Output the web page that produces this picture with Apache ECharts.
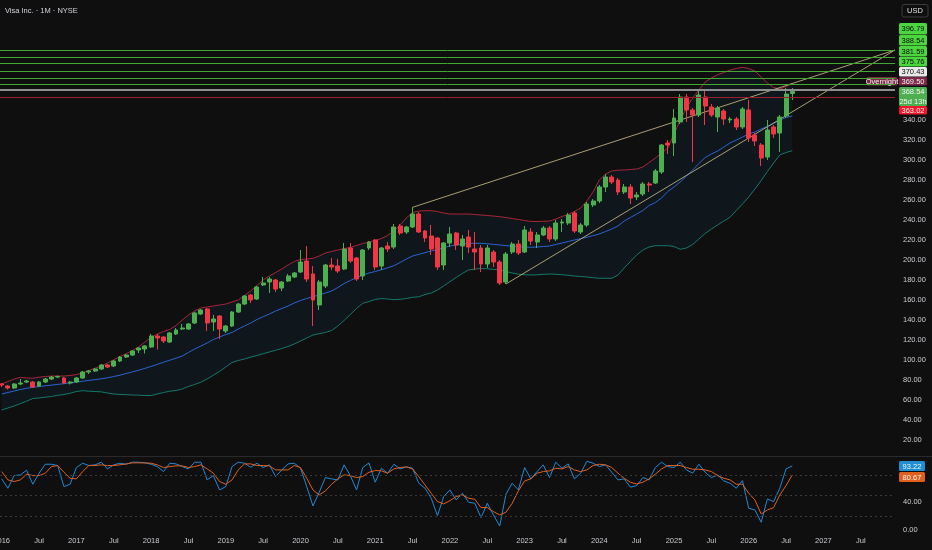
<!DOCTYPE html>
<html><head><meta charset="utf-8">
<script src="https://cdn.jsdelivr.net/npm/echarts@6/dist/echarts.min.js"></script>
<style>html,body{margin:0;padding:0;background:#0f0f0f;}#c{width:932px;height:550px;}</style>
</head><body><div id="c"></div>
<script>
// ---- data (monthly, index 0 = Jan 2016) ----
const titleText = "Visa Inc. · 1M · NYSE";
const months = [];
for (let i = 0; i < 128; i++) months.push((2016 + Math.floor(i / 12)) + "-" + String(i % 12 + 1).padStart(2, "0"));

const open  = [76,74,72,76,78,78,74,78,81,83, 82,77,78,82,88,89,91,95,94,99, 103,105,110,111,113,124,123,118,126,131, 131,137,146,151,138,144,129,134,148,156, 165,161,175,178,180,172,179,183,188,199, 186,155,174,195,194,191,212,202,184,212, 220,194,214,213,234,228,233,246,229,224, 222,195,217,227,214,223,211,212,196,208, 198,178,208,216,208,228,218,225,232,221, 237,237,247,228,235,255,259,273,283,280, 268,273,263,266,276,277,288,317,317,338, 363,350,345,363,353,343,349,340,341,333, 350,325,315,303,333,327,344,366.5];
const close = [75,72,76,77,79,73,78,81,83,83.5, 77,78,82,88,89,91,95,93,99,103, 105,109,112,114,124,122,119,127,130,132, 136,147,150,137,141,131,134,148,156,164, 160,173,177,181,171,178,184,187,198,181, 160,178,195,193,189,211,199,181,210,218, 193,212,211,233,227,233,246,228,222,211, 193,217,226,215,221,213,208,196,212,198, 177,206,216,207,230,219,225,232,221,237, 238,245,229,235,256,259,273,283,278,268, 273,262,265,276,275,289,315,315,342,363, 350,345,365,354,345,352,341,341,333,351, 322,319,302,330,326,343,366,368.5];
const low   = [73,70.5,71,75,77,72,73,77,80,82, 76,75.5,77,81,86,88,90,92,93,98, 102,104,107,106.5,112,110.5,117,117,125,130, 130,136,145,129,129,121,127,133,147,155, 157,160,174,167,168,169,178,182,187,178, 134,150,172,190,187,190,197,179,180,210, 190,190,208,211,225,226,232,227,218,205, 190,190,213,210,200,207,190,188,192,193, 175,176,206,205,207,215,212,224,218,219, 228,235,227,226,233,253,257,268,276,265, 266,256,260,264,268,276,286,306,304,336, 338,298,343,335,343,328,335,337,330,331, 318,314,294,300,322,308,342,360];
const high  = [77,75,77,81,80,79,79,82,84,84.5, 83,79,83,89,90,92,96,96,100,104, 106,110,113,115,126,126,124,128,132,136, 137,148,151,152,145,145,135,149,157,165, 166,174,183,183,181,179,186,188,210,214, 194,180,196,202,201,217,217,203,211,219, 221,213,218,236,236,234,253,248,230,235, 223,218,233,228,225,230,228,215,215,210, 200,208,218,220,234,232,228,234,234,240, 241,247,249,237,258,261,275,286,285,282, 276,276,268,278,278,291,316,320,351,366, 366,352,370,370,356,354,351,343,343,353, 360,327,317,340,335,345,372,372];

const bbUpper = [76,78.5,81,82.7,82,81.8,82.8,83.5,84,84, 84,84.5,85.5,87,89.5,91.8,94,97,100.3,103.5, 106.3,109.5,113,118,122.5,126,128.5,130.6,134.5,140, 145,149,152,153,154,155,156,158,160,164.5, 169,174.5,180,184,187.5,191,195,198.5,200.5,201, 201.7,204,207,208.5,210,211.5,212.5,214.5,216.5,218, 219.5,221.5,224.5,229,235,242,247.5,249,249.3,249.3, 248.5,247,246,246,246,246,245.5,245,244.5,244, 243.3,242.5,241.5,240.5,239.5,238.6,238.5,238.7,239,241, 243.5,245.5,248.5,252,259,268,280,286,289,289.8, 290,290.5,291,293,297.5,302,307,312,326,340, 352,362,370,378,382,385.3,387.5,390,391.5,392.7, 391.5,389,383,377,372.5,371,373.5,376.7];
const bbMid = [66,67.5,69,70.5,71.7,72.7,73.4,74.2,74.9,75.6, 76.3,77.1,78,78.8,79.6,80.4,81.2,82.2,83.5,84.8, 86.5,88.1,89.8,91.6,93.6,95.6,97.8,99.8,101.8,104, 107.5,111,114,117,120.5,123,125.5,127.5,131,134, 137,140.5,143.3,146,149,151.5,154,157,159.5,161.5, 163.3,165,167,169,172.5,176.5,179.5,182.3,185,187, 188.5,190.3,192.2,194.3,197.5,201,204,205.7,207.3,209, 210.5,212.3,214,215,216,216.7,216.7,216.7,216.3,215.6, 215,214.4,213.8,213.2,213,212.7,213,213.5,214,215.5, 217,218.5,220,221.3,222.8,224.3,226,228.5,231,234, 239,242.5,246,249.5,254.5,257.5,262,268.5,273,278, 284,290,296.5,302.5,306,309,313,317,320,323, 326,328,331,333.5,336.5,340,342.5,344];
const bbLower = [50,52,54,56.3,58.8,61.5,62,62.8,63.5,64.7, 65.5,66.8,68.5,69.3,68.8,68.5,68.1,67,66,65.5, 65.3,65,64.8,64.5,64.5,66,67.5,68.8,69.5,71, 73.5,75.5,77.8,81,84.8,88.5,93,97.5,99.5,101, 102.8,104.5,106.3,108,109.7,111.5,113.5,116,119,122, 125,126.3,127.5,129.5,134,139.5,145.5,151.5,156.7,158.5, 160.5,161.5,161,160.3,160.7,161.5,162.7,163.2,165.5,167, 170,174,178.3,182.5,186.5,190,191,191.5,191.2,190.6, 190,188.5,187,185.8,185.3,185,185.2,185.6,186,185.7, 185.3,184.7,184,183.5,183,182.3,181.7,181.7,181.7,185, 192,198.5,205,210,213,214.3,214.3,214.3,213.5,210.7, 212,215.5,221,226.5,231,235,239,242.7,249.5,256, 263,271,279.5,288.5,297,305,307.5,309.3];

const rsiLine = [74.3,60.6,79.1,80.1,87.0,66.5,82.6,95.7,95.7,93.8, 63.0,66.5,90.9,97.2,93.8,94.8,98.7,88.9,94.8,97.2, 95.7,98.7,98.7,97.7,95.7,92.3,85.0,97.2,96.2,92.3, 88.9,98.7,98.7,72.8,79.1,58.2,63.0,92.3,98.7,97.2, 91.3,97.2,90.9,94.8,77.7,87.4,96.2,97.2,89.9,63.0, 34.7,54.7,76.2,74.3,72.8,94.8,79.1,58.2,90.9,97.7, 69.4,89.9,82.6,95.7,88.9,91.8,89.9,67.9,60.6,46.0, 20.6,48.4,58.2,43.5,53.3,40.1,38.6,17.7,38.6,21.6, 5.4,51.8,67.9,58.2,90.9,74.3,85.0,94.8,76.2,98.7, 89.9,96.2,74.3,82.6,100,97.2,92.3,94.8,84.0,72.8, 74.3,62.1,64.5,76.2,72.8,90.9,98.7,92.3,90.9,98.7, 87.4,82.6,95.7,84.0,76.2,80.1,71.3,67.9,60.6,71.8, 31.3,28.9,10.8,45.0,41.1,60.6,88.9,93.3];
const rsiSignal = [85.0,72.8,70.4,72.8,81.1,79.1,79.1,82.6,92.3,93.8, 84.0,75.2,74.3,85.0,93.8,93.8,94.8,93.8,93.8,94.8, 96.2,97.7,97.7,97.7,97.2,94.8,90.9,92.3,93.3,93.3, 90.9,92.3,94.8,88.9,82.6,70.4,66.5,72.8,87.4,96.2, 96.2,93.8,93.8,93.3,87.4,87.4,87.4,93.8,90.9,75.2, 58.2,50.8,56.7,66.5,74.3,80.1,79.1,76.2,77.7,84.0, 86.5,86.0,82.6,88.9,90.9,91.8,88.9,77.7,65.5,53.3, 41.1,37.7,42.5,48.4,50.8,46.0,44.5,32.3,32.3,26.4, 21.6,25.5,38.6,56.7,71.3,74.3,82.6,85.0,86.0,89.9, 88.9,92.3,87.4,85.0,87.4,93.8,95.7,94.8,90.9,82.6, 75.2,69.4,66.9,69.4,74.3,81.1,88.9,93.8,93.8,93.8, 90.9,88.4,88.4,87.4,85.0,79.1,75.2,72.8,66.5,66.5, 53.3,43.5,23.0,28.9,32.3,50.8,64.5,80.1];
const rsiBadgeValues = [93.22, 80.67];
const rsiLevels = [20, 50, 80];
const rsiTicks = [0, 40];

const greenLevels = [409.3, 402.7, 396.79, 388.54, 381.59, 375.76];
const greyLevel = 370.43;
const redLevel = 363.02;
const overnightPrice = 369.50;
const lastPrice = 368.54;
const countdown = "25d 13h";

const trendUpper = [[66, 252.7], [143.5, 410]];
const trendLower = [[81, 176], [143.5, 410]];

const priceTicks = [20,40,60,80,100,120,140,160,180,200,220,240,260,280,300,320,340];
const xTickPos = [0,6,12,18,24,30,36,42,48,54,60,66,72,78,84,90,96,102,108,114,120,126,132,138];
const xTickLabels = ["2016","Jul","2017","Jul","2018","Jul","2019","Jul","2020","Jul","2021","Jul","2022","Jul","2023","Jul","2024","Jul","2025","Jul","2026","Jul","2027","Jul"];

// ---- chart ----
const FONT = '"Liberation Sans", Arial, sans-serif';
const TXT = '#c9cbd0';
const XMIN = -0.273, XMAX = 143.5;
const candleData = months.map((m, i) => [i, open[i], close[i], low[i], high[i]]);
const pairs = arr => arr.map((v, i) => [i, v]);

function badge(x, y, w, h, bg, lines, fg) {
  const ch = [{ type: 'rect', shape: { x: x, y: y, width: w, height: h, r: 1.5 }, style: { fill: bg } }];
  const lh = h / lines.length;
  lines.forEach((t, k) => ch.push({ type: 'text', style: { x: x + w / 2, y: y + lh * k + lh / 2 + 0.5, text: t, fill: fg, font: '7.5px ' + FONT, align: 'center', verticalAlign: 'middle' } }));
  return { type: 'group', silent: true, z: 100, children: ch };
}
const BX = 899, BW = 28;
const graphics = [
  { type: 'line', shape: { x1: 0, y1: 456.5, x2: 932, y2: 456.5 }, style: { stroke: '#2a2a2a', lineWidth: 1 }, silent: true },
  { type: 'group', z: 100, silent: true, children: [
    { type: 'rect', shape: { x: 902, y: 4.5, width: 26, height: 12.5, r: 2 }, style: { fill: 'transparent', stroke: '#3c3c3c', lineWidth: 1 } },
    { type: 'text', style: { x: 915, y: 11, text: 'USD', fill: '#e0e0e0', font: '7.5px ' + FONT, align: 'center', verticalAlign: 'middle' } }
  ]},
  badge(BX, 23, BW, 11.5, '#4cd63e', [greenLevels[2].toFixed(2)], '#0b0b0b'),
  badge(BX, 35, BW, 10.5, '#4cd63e', [greenLevels[3].toFixed(2)], '#0b0b0b'),
  badge(BX, 46, BW, 10, '#4cd63e', [greenLevels[4].toFixed(2)], '#0b0b0b'),
  badge(BX, 56.5, BW, 10, '#4cd63e', [greenLevels[5].toFixed(2)], '#0b0b0b'),
  badge(BX, 67, BW, 9.5, '#e9e9e9', [greyLevel.toFixed(2)], '#0b0b0b'),
  badge(866.5, 77, 31, 8.5, '#7d2647', ['Overnight'], '#f2f2f2'),
  badge(BX, 77, BW, 8.5, '#7d2647', [overnightPrice.toFixed(2)], '#f2f2f2'),
  badge(BX, 87, BW, 19, '#4caf50', [lastPrice.toFixed(2), countdown], '#f4f4f4'),
  badge(BX, 106, BW, 8.5, '#f2172b', [redLevel.toFixed(2)], '#f4f4f4'),
  badge(BX, 461, 26, 10, '#1f8fd1', [rsiBadgeValues[0].toFixed(2)], '#f4f4f4'),
  badge(BX, 472, 26, 10, '#e0601e', [rsiBadgeValues[1].toFixed(2)], '#f4f4f4')
];

const hLines = greenLevels.map(v => ({ yAxis: v, lineStyle: { color: '#41a832', width: 1, type: 'solid' } }))
  .concat([{ yAxis: greyLevel, lineStyle: { color: '#8e8e8e', width: 2, type: 'solid' } },
           { yAxis: redLevel, lineStyle: { color: '#9a1f2b', width: 1, type: 'solid' } }]);

const chart = echarts.init(document.getElementById('c'), null, { renderer: 'canvas' });
chart.setOption({
  backgroundColor: '#0f0f0f',
  animation: false,
  textStyle: { fontFamily: FONT },
  title: { text: titleText, left: 5, top: 7, padding: 0, textStyle: { color: '#d1d4dc', fontSize: 7.5, fontWeight: 'normal', fontFamily: FONT } },
  grid: [
    { left: 0, right: 37, top: 0, height: 460, containLabel: false, outerBoundsMode: 'none' },
    { left: 0, right: 37, top: 461.3, height: 68.4, containLabel: false, outerBoundsMode: 'none' }
  ],
  xAxis: [
    { type: 'value', gridIndex: 0, min: XMIN, max: XMAX, axisLine: { show: false }, axisTick: { show: false }, axisLabel: { show: false }, splitLine: { show: false } },
    { type: 'value', gridIndex: 1, min: XMIN, max: XMAX, axisLine: { show: false }, axisTick: { show: false }, splitLine: { show: false },
      axisLabel: { customValues: xTickPos, formatter: v => xTickLabels[xTickPos.indexOf(Math.round(v))] || '', color: TXT, fontSize: 7.5, margin: 7, fontFamily: FONT } }
  ],
  yAxis: [
    { type: 'value', gridIndex: 0, position: 'right', min: 0, max: 460, axisLine: { show: false }, axisTick: { show: false }, splitLine: { show: false },
      axisLabel: { customValues: priceTicks, formatter: v => v.toFixed(2), color: TXT, fontSize: 7.5, margin: 8, fontFamily: FONT } },
    { type: 'value', gridIndex: 1, position: 'right', min: 0, max: 100, axisLine: { show: false }, axisTick: { show: false }, splitLine: { show: false },
      axisLabel: { customValues: rsiTicks, formatter: v => v.toFixed(2), color: TXT, fontSize: 7.5, margin: 8, fontFamily: FONT } }
  ],
  series: [
    { type: 'custom', xAxisIndex: 0, yAxisIndex: 0, silent: true, z: 1, clip: true, data: [[0, 100]],
      renderItem: function (params, api) {
        if (params.dataIndex !== 0) return null;
        const pts = [];
        for (let i = 0; i < bbUpper.length; i++) pts.push(api.coord([i, bbUpper[i]]));
        for (let i = bbLower.length - 1; i >= 0; i--) pts.push(api.coord([i, bbLower[i]]));
        return { type: 'polygon', shape: { points: pts }, style: { fill: 'rgba(33,150,243,0.06)' } };
      } },
    { type: 'line', name: 'upper', xAxisIndex: 0, yAxisIndex: 0, data: pairs(bbUpper), symbol: 'none', z: 2, lineStyle: { color: '#a92538', width: 1 }, silent: true },
    { type: 'line', name: 'basis', xAxisIndex: 0, yAxisIndex: 0, data: pairs(bbMid), symbol: 'none', z: 2, lineStyle: { color: '#2a63d6', width: 1 }, silent: true },
    { type: 'line', name: 'lower', xAxisIndex: 0, yAxisIndex: 0, data: pairs(bbLower), symbol: 'none', z: 2, lineStyle: { color: '#14786b', width: 1 }, silent: true },
    { type: 'line', name: 'trendU', xAxisIndex: 0, yAxisIndex: 0, data: trendUpper, symbol: 'none', z: 3, lineStyle: { color: 'rgba(196,182,130,0.85)', width: 1 }, silent: true },
    { type: 'line', name: 'trendL', xAxisIndex: 0, yAxisIndex: 0, data: trendLower, symbol: 'none', z: 3, lineStyle: { color: 'rgba(196,182,130,0.85)', width: 1 }, silent: true },
    { type: 'candlestick', name: 'V', xAxisIndex: 0, yAxisIndex: 0, data: candleData, encode: { x: 0, y: [1, 2, 3, 4] }, barWidth: 4.4, z: 4, silent: true,
      itemStyle: { color: '#4caf50', color0: '#f23645', borderColor: '#4caf50', borderColor0: '#f23645', borderWidth: 1 },
      markLine: { silent: true, symbol: ['none', 'none'], label: { show: false }, animation: false, data: hLines } },
    { type: 'line', name: 'rsi', xAxisIndex: 1, yAxisIndex: 1, data: pairs(rsiLine), symbol: 'none', z: 3, lineStyle: { color: '#2189d8', width: 1 }, silent: true,
      markLine: { silent: true, symbol: ['none', 'none'], label: { show: false }, animation: false,
        data: rsiLevels.map(v => ({ yAxis: v, lineStyle: { color: '#3a3a3a', width: 1, type: [2, 3] } })) } },
    { type: 'line', name: 'signal', xAxisIndex: 1, yAxisIndex: 1, data: pairs(rsiSignal), symbol: 'none', z: 4, lineStyle: { color: '#e0601e', width: 1 }, silent: true }
  ],
  graphic: graphics
});
</script></body></html>
